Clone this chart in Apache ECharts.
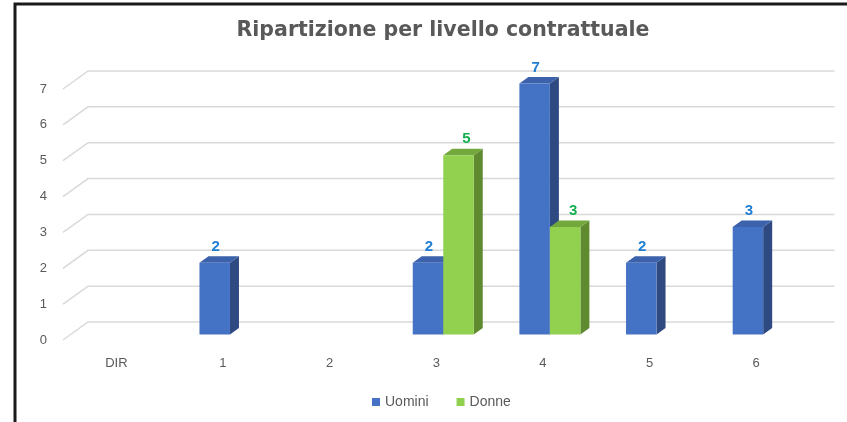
<!DOCTYPE html>
<html><head><meta charset="utf-8">
<script src="https://cdn.jsdelivr.net/npm/echarts@6/dist/echarts.min.js"></script>
<style>html,body{margin:0;padding:0;background:#fff}#c{width:847px;height:422px}</style>
</head><body><div id="c"></div>
<script>
const title = 'Ripartizione per livello contrattuale';
const categories = ['DIR', '1', '2', '3', '4', '5', '6'];
const seriesNames = ['Uomini', 'Donne'];
const uomini = [null, 2, null, 2, 7, 2, 3];
const donne = [null, null, null, 5, 3, null, null];
const yTicks = [0, 1, 2, 3, 4, 5, 6, 7];

const FONT = "'Liberation Sans', Arial, sans-serif";
const TITLE_FONT = "'DejaVu Sans', Verdana, sans-serif";
const palette = {
  Uomini: {front: '#4472C4', top: '#3B62AA', side: '#2E4A80', label: '#1F7FD4'},
  Donne: {front: '#92D050', top: '#73A83C', side: '#5F8A2F', label: '#14B050'}
};
// pseudo-3D projection (pixels)
const WALL = {dx: 25, dy: -18};
const PLANE = {dx: 7, dy: -5.5};
const DEPTH = {dx: 9, dy: -6.5};
const BAR_FRAC = 0.286;

function barRender(seriesIdx) {
  const name = seriesNames[seriesIdx];
  const col = palette[name];
  return function (params, api) {
    const v = api.value(1);
    if (v == null || isNaN(v)) return;
    const i = api.value(0);
    const base = api.coord([i, 0]);
    const topPt = api.coord([i, v]);
    const w = api.size([1, 0])[0] * BAR_FRAC;
    const x0 = base[0] + PLANE.dx - w + seriesIdx * w;
    const x1 = x0 + w;
    const yb = base[1] + PLANE.dy;
    const yt = topPt[1] + PLANE.dy;
    const lx = seriesIdx === 0 ? (x0 + x1) / 2 + 1 : (x0 + x1) / 2 + 8;
    return {
      type: 'group',
      children: [
        {type: 'polygon', shape: {points: [[x1, yt], [x1 + DEPTH.dx, yt + DEPTH.dy], [x1 + DEPTH.dx, yb + DEPTH.dy], [x1, yb]]}, style: {fill: col.side}},
        {type: 'polygon', shape: {points: [[x0, yt], [x0 + DEPTH.dx, yt + DEPTH.dy], [x1 + DEPTH.dx, yt + DEPTH.dy], [x1, yt]]}, style: {fill: col.top}},
        {type: 'rect', shape: {x: x0, y: yt, width: w, height: yb - yt}, style: {fill: col.front}},
        {type: 'text', x: lx, y: yt - 16, style: {text: String(v), fill: col.label, font: 'bold 15px ' + FONT, textAlign: 'center', textVerticalAlign: 'middle'}}
      ]
    };
  };
}

const chart = echarts.init(document.getElementById('c'), null, {renderer: 'canvas'});
chart.setOption({
  backgroundColor: '#fff',
  animation: false,
  title: {text: title, left: 438, textAlign: 'center', top: 15,
    textStyle: {fontFamily: TITLE_FONT, fontSize: 20.5, fontWeight: 'bold', color: '#595959'}},
  legend: {left: 372, top: 395, padding: 0, itemWidth: 8, itemHeight: 8, itemGap: 28,
    icon: 'rect', data: seriesNames,
    textStyle: {fontFamily: FONT, fontSize: 14, color: '#595959'}},
  grid: {left: 63, right: 37.5, top: 89, bottom: 82, containLabel: false},
  xAxis: {type: 'category', data: categories, axisLine: {show: false}, axisTick: {show: false},
    axisLabel: {margin: 17, fontFamily: FONT, fontSize: 13, color: '#595959'}},
  yAxis: {type: 'value', min: 0, max: 7, interval: 1, splitLine: {show: false},
    axisLine: {show: false}, axisTick: {show: false},
    axisLabel: {margin: 16, fontFamily: FONT, fontSize: 13, color: '#595959'}},
  series: [
    {type: 'custom', name: '_wall', silent: true, z: 1, clip: false,
      data: yTicks.map(v => [0, v]),
      renderItem: function (params, api) {
        const y = api.coord([0, api.value(1)])[1];
        const cs = params.coordSys;
        const xL = cs.x, xR = cs.x + cs.width;
        return {type: 'polyline', shape: {points: [[xL, y], [xL + WALL.dx, y + WALL.dy], [xR + WALL.dx, y + WALL.dy]]},
          style: {stroke: '#D9D9D9', lineWidth: 1.5, fill: null}};
      }},
    {type: 'custom', name: 'Uomini', z: 3, clip: false, itemStyle: {color: palette.Uomini.front},
      data: uomini.map((v, i) => [i, v]), renderItem: barRender(0)},
    {type: 'custom', name: 'Donne', z: 4, clip: false, itemStyle: {color: palette.Donne.front},
      data: donne.map((v, i) => [i, v]), renderItem: barRender(1)}
  ],
  graphic: [
    {type: 'polyline', shape: {points: [[15, 422], [15, 4], [847, 4]]}, style: {stroke: '#1a1a1a', lineWidth: 3, fill: null}, z: 10}
  ]
});
</script></body></html>
